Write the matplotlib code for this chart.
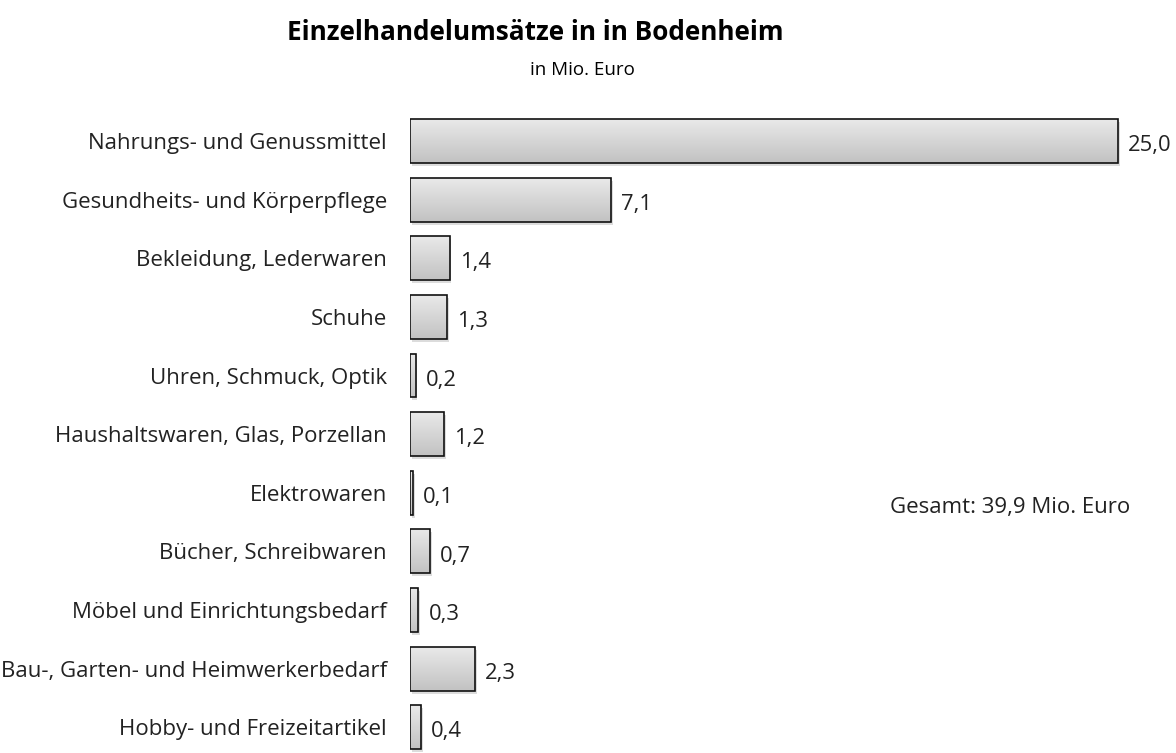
import numpy as np
import matplotlib.pyplot as plt
from matplotlib.colors import LinearSegmentedColormap

plt.rcParams['font.family'] = ['Open Sans', 'DejaVu Sans']

kategorien = [
    "Nahrungs- und Genussmittel",
    "Gesundheits- und Körperpflege",
    "Bekleidung, Lederwaren",
    "Schuhe",
    "Uhren, Schmuck, Optik",
    "Haushaltswaren, Glas, Porzellan",
    "Elektrowaren",
    "Bücher, Schreibwaren",
    "Möbel und Einrichtungsbedarf",
    "Bau-, Garten- und Heimwerkerbedarf",
    "Hobby- und Freizeitartikel",
]
umsatz = [25.0, 7.1, 1.4, 1.3, 0.2, 1.2, 0.1, 0.7, 0.3, 2.3, 0.4]
gesamt = 39.9

W, H = 1176, 753
fig = plt.figure(figsize=(W / 100, H / 100), dpi=100)
ax = fig.add_axes([410 / W, 0, 766 / W, 653 / H])

hoehe = 0.75
cmap = LinearSegmentedColormap.from_list("grau", ["#e9e9e9", "#c2c2c2"])
grad = np.linspace(0, 1, 64).reshape(-1, 1)

y = np.arange(len(kategorien))
# schatten
ax.barh(y + 0.05, umsatz, height=hoehe, left=0.06, color="#dcdcdc",
        edgecolor="none", zorder=1)
for yi, v in zip(y, umsatz):
    ax.imshow(grad, extent=[0, v, yi + hoehe / 2, yi - hoehe / 2],
              aspect="auto", cmap=cmap, zorder=2, interpolation="bilinear")
ax.barh(y, umsatz, height=hoehe, facecolor="none", edgecolor="#111111",
        linewidth=1.2, zorder=3)

for yi, v in zip(y, umsatz):
    ax.text(v + 0.35, yi + 0.08, f"{v:.1f}".replace(".", ","),
            va="center", ha="left", fontsize=15.8, color="#222222")

ax.set_xlim(0, 27.05)
ax.set_ylim(10.44, -0.7)
ax.set_yticks(y)
ax.set_yticklabels(kategorien, fontsize=16, color="#222222")
ax.tick_params(axis="y", length=0, pad=16.5)
ax.set_xticks([])
for s in ax.spines.values():
    s.set_visible(False)

fig.text(535 / W, 1 - 32 / H, "Einzelhandelumsätze in in Bodenheim",
         ha="center", va="center", fontsize=18.8, fontweight="bold")
fig.text(582 / W, 1 - 70 / H, "in Mio. Euro", ha="center", va="center",
         fontsize=13.5)
fig.text(1010 / W, 1 - 508 / H, f"Gesamt: {gesamt:.1f} Mio. Euro".replace(".", ",", 1),
         ha="center", va="center", fontsize=16, color="#222222")

fig.savefig("out.png", dpi=100)
